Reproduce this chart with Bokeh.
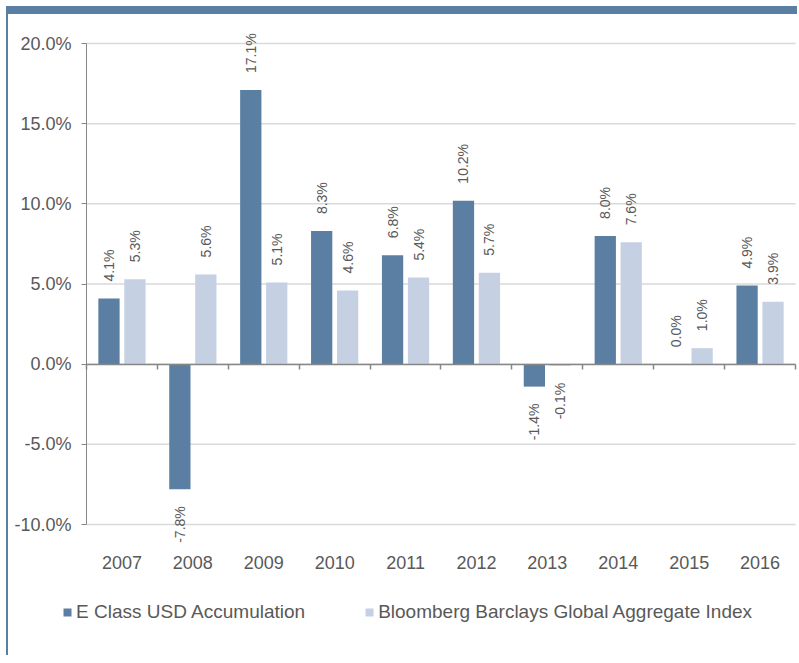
import math
from bokeh.plotting import figure
from bokeh.models import (ColumnDataSource, Range1d, FixedTicker, LinearAxis,
                          PrintfTickFormatter, Legend, LegendItem)
from bokeh.core.properties import value
from bokeh.embed import file_html
from bokeh.resources import INLINE

# ---- data ----
years = ["2007", "2008", "2009", "2010", "2011", "2012", "2013", "2014", "2015", "2016"]
fund = [4.1, -7.8, 17.1, 8.3, 6.8, 10.2, -1.4, 8.0, 0.0, 4.9]
index = [5.3, 5.6, 5.1, 4.6, 5.4, 5.7, -0.1, 7.6, 1.0, 3.9]
y_ticks = [-10, -5, 0, 5, 10, 15, 20]
series_names = ["E Class USD Accumulation", "Bloomberg Barclays Global Aggregate Index"]

DARK = "#5B7FA3"
LIGHT = "#C5D1E3"
TXT = "#595959"
AXIS = "#868686"
GRID = "#D9D9D9"
FONT = "Liberation Sans"

n = len(years)
centers = [i + 0.5 for i in range(n)]
OFF = 0.183
BW = 0.30


def lab(vals):
    return ([f"{v:.1f}%" for v in vals],
            ["left" if v >= 0 else "right" for v in vals],
            [-17 if v >= 0 else 17 for v in vals])


ft, fa, fo = lab(fund)
it, ia, io = lab(index)
src = ColumnDataSource(dict(year=years, xf=[c - OFF for c in centers],
                            xi=[c + OFF for c in centers],
                            fund=fund, index=index,
                            ft=ft, fa=fa, fo=fo, it=it, ia=ia, io=io))

p = figure(width=791, height=649, output_backend="svg", toolbar_location=None,
           x_range=Range1d(-1.1001, 10.0564), y_range=Range1d(-18.669, 21.809),
           x_axis_location=None, y_axis_location=None,
           min_border_left=0, min_border_right=0, min_border_top=0,
           min_border_bottom=0,
           styles={"margin-left": "6px", "margin-top": "6px",
                   "border-top": "8px solid " + DARK,
                   "border-left": "2px solid " + DARK})
p.outline_line_color = None
p.background_fill_color = "white"
p.border_fill_color = "white"
p.grid.visible = False

# horizontal gridlines across the category area
p.segment(x0=[0] * len(y_ticks), x1=[n] * len(y_ticks), y0=y_ticks, y1=y_ticks,
          line_color=GRID, line_width=1.5)

# y axis
yax = LinearAxis(fixed_location=0, bounds=(y_ticks[0], y_ticks[-1]),
                 ticker=FixedTicker(ticks=y_ticks),
                 formatter=PrintfTickFormatter(format="%.1f%%"))
yax.axis_line_color = AXIS
yax.major_tick_line_color = AXIS
yax.major_tick_out = 5
yax.major_tick_in = 0
yax.minor_tick_line_color = None
yax.major_label_standoff = 10
yax.major_label_text_font = FONT
yax.major_label_text_font_size = "18px"
yax.major_label_text_color = TXT
p.add_layout(yax, "left")

# category labels axis
xax = LinearAxis(fixed_location=y_ticks[0], ticker=FixedTicker(ticks=centers),
                 major_label_overrides={c: y for c, y in zip(centers, years)})
xax.axis_line_color = None
xax.major_tick_line_color = None
xax.minor_tick_line_color = None
xax.major_tick_out = 0
xax.major_tick_in = 0
xax.major_label_standoff = 31
xax.major_label_text_font = FONT
xax.major_label_text_font_size = "18px"
xax.major_label_text_color = TXT
p.add_layout(xax, "below")

# bars
r1 = p.vbar(x="xf", top="fund", width=BW, source=src, fill_color=DARK, line_color=None)
r2 = p.vbar(x="xi", top="index", width=BW, source=src, fill_color=LIGHT, line_color=None)

# zero axis with category boundary ticks
zax = LinearAxis(fixed_location=0, bounds=(0, n),
                 ticker=FixedTicker(ticks=list(range(n + 1))))
zax.axis_line_color = AXIS
zax.axis_line_width = 1.5
zax.major_tick_line_color = AXIS
zax.major_tick_line_width = 1.5
zax.major_tick_out = 5
zax.major_tick_in = 0
zax.minor_tick_line_color = None
zax.major_label_text_color = None
p.add_layout(zax, "below")

# value labels
p.text(x="xf", y="fund", text="ft", source=src,
       angle=math.pi / 2, text_align="fa", y_offset="fo", text_baseline="middle",
       text_font=value(FONT), text_font_size="14px", text_color=TXT)
p.text(x="xi", y="index", text="it", source=src,
       angle=math.pi / 2, text_align="ia", y_offset="io", text_baseline="middle",
       text_font=value(FONT), text_font_size="14px", text_color=TXT)

# legend
legend = Legend(items=[LegendItem(label=series_names[0], renderers=[r1]),
                       LegendItem(label=series_names[1], renderers=[r2])],
                orientation="horizontal", location=(54, 40),
                glyph_width=10, glyph_height=10, label_standoff=4, spacing=59,
                padding=0, margin=0, border_line_color=None,
                background_fill_alpha=0,
                label_text_font=FONT, label_text_font_size="19px",
                label_text_color=TXT)
p.add_layout(legend)

open("out.html", "w").write(file_html(p, INLINE))
